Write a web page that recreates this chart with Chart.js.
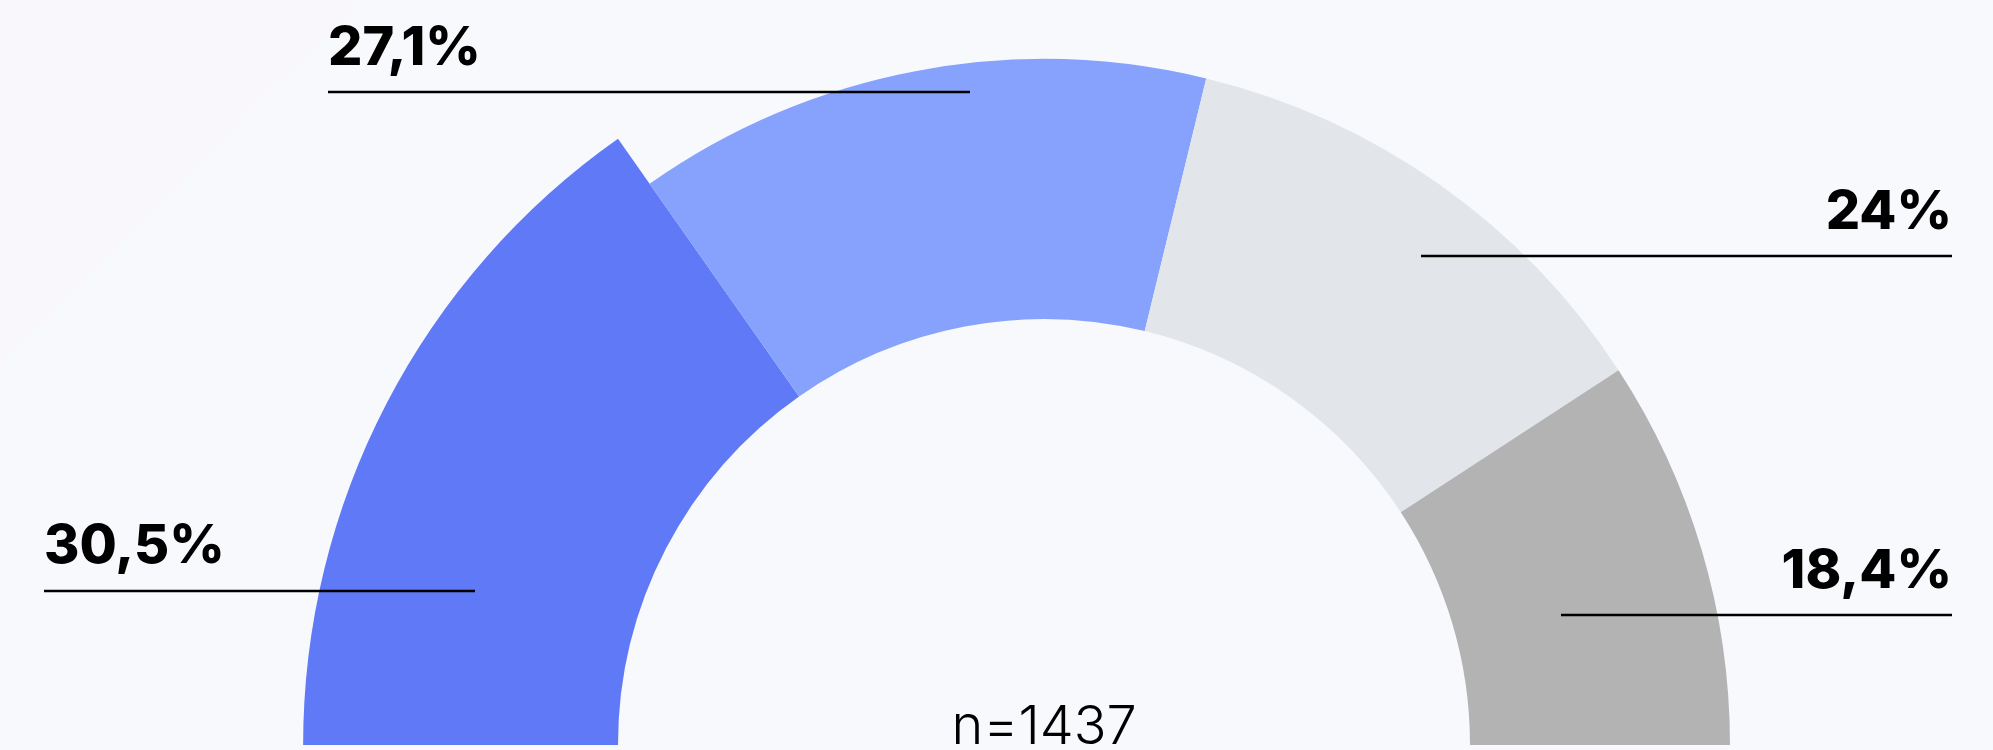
<!DOCTYPE html>
<html lang="en">
<head>
  <meta charset="UTF-8">
  <title>Half doughnut - n=1437</title>
  <script src="https://cdn.jsdelivr.net/npm/chart.js"></script>
  <style>
    html, body {
      margin: 0;
      padding: 0;
      background-color: #f8f9fd;
    }
    .chart-box {
      width: 1993px;
      height: 750px;
      position: relative;
    }
  </style>
</head>
<body>
  <div class="chart-box">
    <canvas id="halfChart"></canvas>
  </div>

  <script>
    const categories = ['Groupe 1', 'Groupe 2', 'Groupe 3', 'Groupe 4'];
    const shares = [30.5, 27.1, 24, 18.4];
    const sampleSize = 1437;

    const sliceColors = ['#6079f6', '#87a2fd', '#e2e6ea', '#b3b3b3'];

    // where each callout sits (text + underline), same order as shares
    const callouts = [
      { align: 'left',  x: 44,   textY: 563, lineY: 591, lineTo: 475 },
      { align: 'left',  x: 328,  textY: 65,  lineY: 92,  lineTo: 970 },
      { align: 'right', x: 1952, textY: 229, lineY: 256, lineTo: 1421 },
      { align: 'right', x: 1952, textY: 588, lineY: 615, lineTo: 1561 }
    ];

    const formatShare = v => String(v).replace('.', ',') + '%';

    // faint triangle in the top-left corner of the background
    const backdrop = {
      id: 'backdrop',
      beforeDraw(chart) {
        const ctx = chart.ctx;
        ctx.save();
        ctx.fillStyle = '#f9f7fc';
        ctx.beginPath();
        ctx.moveTo(0, 0);
        ctx.lineTo(362, 0);
        ctx.lineTo(0, 363);
        ctx.closePath();
        ctx.fill();
        ctx.restore();
      }
    };

    // first slice sticks out further than the others
    const popOut = {
      id: 'popOut',
      afterDatasetUpdate(chart, args) {
        const arc = chart.getDatasetMeta(args.index).data[0];
        if (arc) arc.outerRadius = arc.outerRadius * 1.08;
      }
    };

    const calloutLabels = {
      id: 'calloutLabels',
      afterDraw(chart) {
        const ctx = chart.ctx;
        const meta = chart.getDatasetMeta(0);
        ctx.save();
        ctx.fillStyle = '#000';
        ctx.strokeStyle = '#000';
        ctx.lineWidth = 2.5;
        ctx.textBaseline = 'alphabetic';
        ctx.font = '800 54px Inter, "Noto Sans", sans-serif';

        shares.forEach((v, i) => {
          const c = callouts[i];
          ctx.textAlign = c.align;
          ctx.fillText(formatShare(v), c.x, c.textY);
          ctx.beginPath();
          ctx.moveTo(c.x, c.lineY);
          ctx.lineTo(c.lineTo, c.lineY);
          ctx.stroke();
        });

        const arc = meta.data[0];
        ctx.textAlign = 'center';
        ctx.font = '300 54px Inter, "Noto Sans", sans-serif';
        ctx.fillText('n=' + sampleSize, arc.x, 744);
        ctx.restore();
      }
    };

    const ctxHalf = document.getElementById('halfChart').getContext('2d');
    const halfChart = new Chart(ctxHalf, {
      type: 'doughnut',
      data: {
        labels: categories,
        datasets: [{
          data: shares,
          backgroundColor: sliceColors,
          borderWidth: 0
        }]
      },
      options: {
        responsive: true,
        maintainAspectRatio: false,
        animation: false,
        rotation: -90,
        circumference: 180,
        radius: 686,
        cutout: '62.1%',
        layout: {
          padding: { top: 59, bottom: 5, left: 400, right: 305 }
        },
        plugins: {
          legend: { display: false },
          tooltip: { enabled: false }
        }
      },
      plugins: [backdrop, popOut, calloutLabels]
    });
  </script>
</body>
</html>
